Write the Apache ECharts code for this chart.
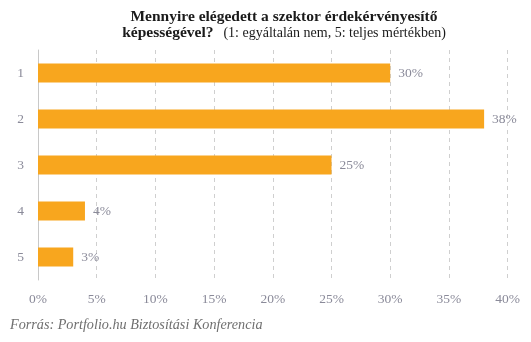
<!DOCTYPE html>
<html>
<head>
<meta charset="utf-8">
<script src="https://cdn.jsdelivr.net/npm/echarts@6/dist/echarts.min.js"></script>
<style>
  html, body { margin: 0; padding: 0; background: #fff; }
  #chart { width: 531px; height: 342px; }
</style>
</head>
<body>
<div id="chart"></div>
<script>
// Rating categories (1 = not at all, 5 = fully) and share of answers in percent
const categories = ['1', '2', '3', '4', '5'];
const shares = [30, 38, 25, 4, 3];
const tickValues = [0, 5, 10, 15, 20, 25, 30, 35, 40];

const SERIF = '"Liberation Serif", "DejaVu Serif", Georgia, serif';
const LABEL_GRAY = '#8a8a99';

const chart = echarts.init(document.getElementById('chart'), null, { renderer: 'canvas' });

chart.setOption({
  animation: false,
  title: {
    left: 279,
    top: 5,
    textAlign: 'center',
    text: '{b|Mennyire elégedett a szektor érdekérvényesítő}\n{b|képességével?}  {n|(1: egyáltalán nem, 5: teljes mértékben)}',
    textStyle: {
      rich: {
        b: { fontFamily: SERIF, fontWeight: 'bold', fontSize: 15.5, color: '#1a1a1a', lineHeight: 14 },
        n: { fontFamily: SERIF, fontWeight: 'normal', fontSize: 14, color: '#1a1a1a', lineHeight: 14 }
      }
    }
  },
  graphic: [{
    type: 'text',
    left: 10,
    top: 318,
    style: {
      text: 'Forrás: Portfolio.hu Biztosítási Konferencia',
      font: 'italic 14.2px ' + SERIF,
      fill: '#6f6f6f'
    }
  }],
  grid: { left: 38, right: 531 - 507.6, top: 50, bottom: 342 - 280 },
  xAxis: {
    type: 'value',
    min: tickValues[0],
    max: tickValues[tickValues.length - 1],
    interval: 5,
    axisLine: { show: false },
    axisTick: { show: false },
    axisLabel: {
      formatter: v => v + '%',
      color: LABEL_GRAY,
      fontFamily: SERIF,
      fontSize: 13.5,
      margin: 12
    },
    splitLine: { show: true, lineStyle: { type: [4, 4], color: '#cfcfcf', width: 1 } }
  },
  yAxis: {
    type: 'category',
    data: categories,
    inverse: true,
    axisLine: { show: true, lineStyle: { color: '#c8c8c8', width: 1 } },
    axisTick: { show: false },
    axisLabel: { color: LABEL_GRAY, fontFamily: SERIF, fontSize: 13.5, margin: 14 }
  },
  series: [{
    type: 'bar',
    data: shares,
    barWidth: 19,
    itemStyle: { color: '#f8a61e' },
    label: {
      show: true,
      position: 'right',
      distance: 8,
      formatter: p => p.value + '%',
      color: LABEL_GRAY,
      fontFamily: SERIF,
      fontSize: 13.5
    }
  }]
});
</script>
</body>
</html>
